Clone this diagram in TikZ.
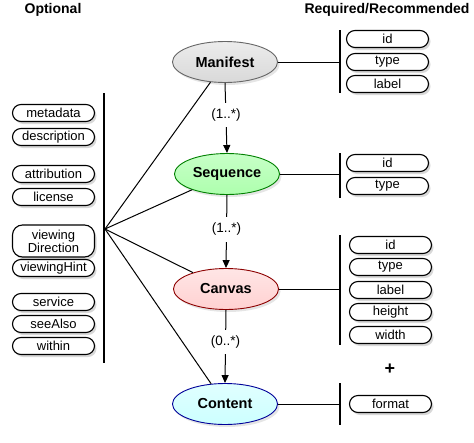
\documentclass[tikz,border=0pt]{standalone}
\usepackage{fontspec}
\setmainfont{Liberation Sans}
\usetikzlibrary{shadows,arrows.meta,shapes.geometric}
\begin{document}
\begin{tikzpicture}[x=1pt,y=-1pt,
  prop/.style={draw, line width=1.1pt, rounded corners=8.5pt, minimum width=82pt,
    minimum height=17pt, inner sep=0pt, fill=white,
    font=\fontsize{13}{14}\selectfont,
    drop shadow={opacity=0.3, shadow xshift=2pt, shadow yshift=-2.5pt}},
  cls/.style={ellipse, draw, line width=0.9pt, minimum width=105pt, minimum height=41pt,
    inner sep=0pt, font=\bfseries\fontsize{14.5}{16}\selectfont,
    drop shadow={opacity=0.2, shadow xshift=2pt, shadow yshift=-2.5pt}},
  bar/.style={line width=2.6pt},
  conn/.style={line width=1pt},
  mult/.style={fill=white, inner xsep=2pt, inner ysep=6pt, font=\fontsize{13.5}{15}\selectfont},
  arr/.style={conn, -{Triangle[length=8pt,width=7pt]}},
  title/.style={font=\bfseries\fontsize{14}{16}\selectfont}
]
\useasboundingbox[fill=white] (0,0) rectangle (474,442);

\node[title] (topt) at (53,10) {Optional};
\node[title] (treq) at (387,10) {Required/Recommended};

% classes
\node[cls, draw=gray!80!black, top color=gray!15, bottom color=gray!30] (man) at (225,62) {Manifest};
\node[cls, draw=green!50!black, top color=green!22, bottom color=green!32] (seq) at (227,174) {Sequence};
\node[cls, draw=red!55!black, top color=red!10, bottom color=red!18] (can) at (226,289) {Canvas};
\node[cls, draw=blue!60!black, top color=cyan!12, bottom color=cyan!20] (con) at (225,404) {Content};

% vertical arrows
\draw[arr] (man.south) -- node[mult, pos=0.46]{(1..*)} (seq.north);
\draw[arr] (seq.south) -- node[mult, pos=0.47]{(1..*)} (can.north);
\draw[arr] (can.south) -- node[mult, pos=0.44]{(0..*)} (con.north);

% right: Manifest
\draw[bar] (340,30) -- (340,93);
\coordinate (mbar) at (340,62);
\draw[conn] (man.east) -- (mbar);
\node[prop] (mid) at (387.5,39) {id};
\node[prop] (mtype) at (387.5,62) {type};
\node[prop] (mlabel) at (387.5,84) {label};

% right: Sequence
\draw[bar] (340,153) -- (340,198);
\coordinate (sbar) at (340,174);
\draw[conn] (seq.east) -- (sbar);
\node[prop] (sid) at (387.5,163) {id};
\node[prop] (stype) at (387.5,186) {type};

% right: Canvas
\draw[bar] (340,235) -- (340,345);
\coordinate (cbar) at (340,289);
\draw[conn] (can.east) -- (cbar);
\node[prop] (cid) at (390.5,245) {id};
\node[prop] (ctype) at (390.5,267) {type};
\node[prop] (clabel) at (390.5,290) {label};
\node[prop] (cheight) at (390.5,312) {height};
\node[prop] (cwidth) at (390.5,335) {width};

\node[font=\bfseries\fontsize{18}{18}\selectfont] (plus) at (390,369) {+};

% right: Content
\draw[bar] (340,383) -- (340,425);
\coordinate (tbar) at (340,404);
\draw[conn] (con.east) -- (tbar);
\node[prop] (tformat) at (390.5,404) {format};

% left: optional
\draw[bar] (104,93) -- (104,363);
\coordinate (fan) at (105,229);
\draw[conn] (fan) -- (man);
\draw[conn] (fan) -- (seq);
\draw[conn] (fan) -- (can);
\draw[conn] (fan) -- (con);

\node[prop] (lmeta) at (53.5,113) {metadata};
\node[prop] (ldesc) at (53.5,137) {description};
\node[prop] (lattr) at (53.5,174) {attribution};
\node[prop] (llic) at (53.5,197) {license};
\node[prop, minimum height=32pt, rounded corners=10pt, align=center] (lvd) at (53.5,241) {viewing\\[-1pt]Direction};
\node[prop] (lvh) at (53.5,268) {viewingHint};
\node[prop] (lserv) at (53.5,302) {service};
\node[prop] (lsee) at (53.5,324) {seeAlso};
\node[prop] (lwithin) at (53.5,346) {within};
\end{tikzpicture}
\end{document}
